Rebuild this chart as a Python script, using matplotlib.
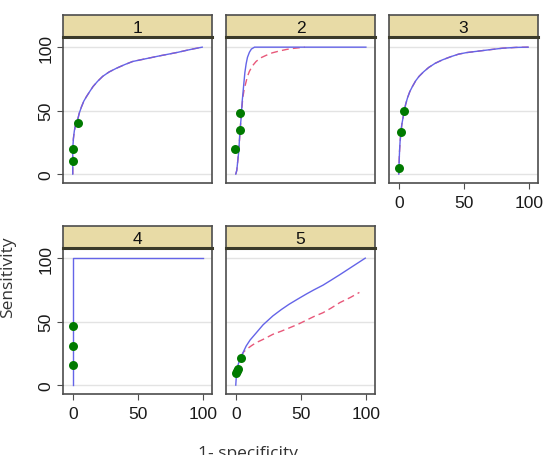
import numpy as np
import matplotlib
matplotlib.use('Agg')
import matplotlib.pyplot as plt

plt.rcParams['font.family'] = ['Liberation Sans', 'DejaVu Sans']

# ROC curves, one per group (x = 1-specificity, y = sensitivity)
panel_ids = ['1', '2', '3', '4', '5']

fit_x = {
    '1': [0, 0, 0.5, 1.2, 2.2, 3.8, 5, 6.7, 8.5, 10.5, 13, 15.6, 19, 23, 28, 33.6,
          40, 46, 52, 59, 67, 74.6, 81, 87, 93, 99.5],
    '2': [0, 0.8, 1.5, 2.3, 3.0, 3.5, 4.1, 5.0, 5.9, 7.0, 8.0, 9.0, 10.5, 12.0, 14.4, 100],
    '3': [0, 0.3, 0.6, 1.0, 1.6, 2.3, 3.2, 4.1, 5.3, 6.7, 8.5, 10.5, 13, 15.6, 19, 23,
          28, 33.6, 40, 46, 52, 59, 70, 80, 90, 99.5],
    '4': [0, 0, 100],
    '5': [0, 0.5, 1.5, 2.7, 4, 6, 8, 11, 15.6, 21, 28.5, 35, 41, 48, 54, 60, 67, 73,
          80, 86, 92, 99.5],
}
fit_y = {
    '1': [0, 20, 28, 34, 39, 43, 48, 53, 57.5, 61, 65, 69, 73, 77, 80.5, 83.4,
          86.3, 88.7, 90, 91.5, 93.2, 94.7, 96, 97.4, 98.7, 100],
    '2': [0, 3, 10, 18, 30, 37, 44, 58, 68, 80, 87, 92, 96, 98.5, 100, 100],
    '3': [0, 10, 18, 25.5, 32, 38.7, 44, 49, 55, 60, 65, 69, 73.5, 77, 80.5, 84,
          87.3, 90, 92.5, 94.5, 95.7, 96.6, 98, 99.2, 99.8, 100],
    '4': [0, 100, 100],
    '5': [0, 8, 15, 19, 21.6, 26.5, 30.8, 35.5, 41, 47.5, 54.5, 59.5, 63.7, 68, 71.6,
          75, 78.7, 82.5, 87, 91, 95, 100],
}

# second (dashed) curve
alt_x = {
    '1': fit_x['1'],
    '2': [0, 0.8, 2.3, 3.2, 4.0, 5.4, 6.5, 8.0, 9, 10.5, 13, 15.6, 19, 23, 28, 33.6,
          39, 44, 53],
    '3': fit_x['3'],
    '4': [],
    '5': [4, 6, 8, 12, 15.6, 22, 28.5, 35, 41, 48, 54, 60, 67, 73, 80, 88, 95],
}
alt_y = {
    '1': fit_y['1'],
    '2': [0, 3, 18, 32, 44, 60, 67, 73, 77, 81, 85.5, 88.7, 91.5, 93.4, 95.5, 97,
          98.2, 99, 100],
    '3': fit_y['3'],
    '4': [],
    '5': [23, 26, 28, 31, 33.4, 36.5, 40, 42.5, 45, 48, 51, 54, 57, 60.5, 65, 69, 73],
}

# observed operating points
pts_x = {
    '1': [0, 0, 3.8],
    '2': [-0.8, 3.6, 3.6],
    '3': [0, 1.5, 3.8],
    '4': [0, 0, 0],
    '5': [0, 1, 2, 4],
}
pts_y = {
    '1': [10.3, 19.5, 40.3],
    '2': [19.5, 35, 48.4],
    '3': [5, 33.4, 49.7],
    '4': [16.2, 30.5, 46.7],
    '5': [9.3, 11.5, 13, 21.2],
}

W, H = 554, 456
fig = plt.figure(figsize=(W / 100, H / 100), dpi=100)

col_left = [63, 226, 389]
row_top = [38, 249]          # top of plot area (below strip), px from top
pw, ph, sh = 149, 146, 22    # panel width, panel height, strip height

frame_col = '#4d4d4d'
strip_col = '#e8dba6'

for i, pid in enumerate(panel_ids):
    r, c = divmod(i, 3)
    x0 = col_left[c]
    y0 = row_top[r]
    ax = fig.add_axes([x0 / W, (H - y0 - ph) / H, pw / W, ph / H])
    ax.set_xlim(-7.5, 107)
    ax.set_ylim(-7, 108)
    for yv in [0, 50, 100]:
        ax.axhline(yv, color='#e3e3e3', lw=1, zorder=0)

    if alt_x[pid]:
        ax.plot(alt_x[pid], alt_y[pid], color='#e8587a', lw=1, ls=(0, (5, 3)), zorder=2)
    ax.plot(fit_x[pid], fit_y[pid], color='#6464e8', lw=1, zorder=3)
    ax.scatter(pts_x[pid], pts_y[pid], s=42, color='#007a00', zorder=4, linewidths=0)

    for sp in ax.spines.values():
        sp.set_color(frame_col)
        sp.set_linewidth(1.2)

    ax.set_yticks([0, 50, 100])
    ax.set_xticks([0, 50, 100])
    show_y = c == 0
    show_x = (r == 1) or (c == 2)
    ax.tick_params(axis='y', left=show_y, labelleft=show_y, length=4,
                   color=frame_col, labelsize=12.5, pad=3)
    ax.tick_params(axis='x', bottom=show_x, labelbottom=show_x, length=4,
                   color=frame_col, labelsize=12.5, pad=5)
    if show_y:
        for lab in ax.get_yticklabels():
            lab.set_rotation(90)
            lab.set_va('center')
            lab.set_color('#1a1a1a')
    for lab in ax.get_xticklabels():
        lab.set_color('#1a1a1a')

    # strip on top of each panel
    sax = fig.add_axes([x0 / W, (H - y0) / H, pw / W, sh / H])
    sax.set_facecolor(strip_col)
    sax.set_xticks([])
    sax.set_yticks([])
    for sp in sax.spines.values():
        sp.set_color(frame_col)
        sp.set_linewidth(1.2)
    sax.spines['bottom'].set_color('#3a3a2a')
    sax.spines['bottom'].set_linewidth(2.2)
    sax.text(0.5, 0.45, pid, ha='center', va='center', fontsize=12.5,
             color='#111111', transform=sax.transAxes)

fig.text(8 / W, 1 - 277 / H, 'Sensitivity', rotation=90, ha='center', va='center',
         fontsize=12.5, family=['Open Sans', 'DejaVu Sans'], color='#333333')
fig.text(248 / W, 1 - 446 / H, '1- specificity', ha='center', va='top',
         fontsize=12.5, family=['Open Sans', 'DejaVu Sans'], color='#333333')

fig.savefig('out.png', dpi=100)
